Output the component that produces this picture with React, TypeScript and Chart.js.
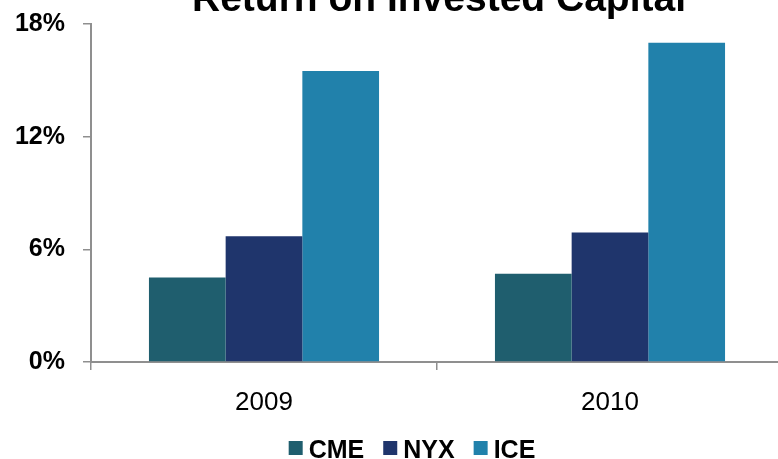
import React, { useEffect, useRef } from "react";
import { Chart, registerables } from "chart.js";

Chart.register(...registerables);

const categories = ["2009", "2010"];
const seriesNames = ["CME", "NYX", "ICE"];
const cmeValues = [4.5, 4.7];
const nyxValues = [6.7, 6.9];
const iceValues = [15.5, 17.0];
const seriesColors = ["#1F5E6E", "#1F356C", "#2181AB"];
const yTicks = [0, 6, 12, 18];
const titleText = "Return on Invested Capital";

const FONT = "'Liberation Sans', Arial, sans-serif";
const AXIS = "#8f8f8f";

const overlayPlugin = {
  id: "overlay",
  afterDraw(chart: any) {
    const ctx = chart.ctx;
    const area = chart.chartArea;
    ctx.save();
    // title
    ctx.fillStyle = "#000";
    ctx.font = `bold 39px ${FONT}`;
    ctx.textAlign = "center";
    ctx.textBaseline = "alphabetic";
    ctx.fillText(titleText, (area.left + area.right) / 2 + 2, area.top - 13);
    // legend
    ctx.font = `bold 25px ${FONT}`;
    ctx.textAlign = "left";
    const box = 14;
    const gapText = 6;
    const gapItem = 19;
    const ds = chart.data.datasets;
    let total = 0;
    const widths = ds.map((d: any) => ctx.measureText(d.label).width);
    widths.forEach((w: number, i: number) => {
      total += box + gapText + w + (i < widths.length - 1 ? gapItem : 0);
    });
    let x = 412 - total / 2;
    const baseline = 458;
    ds.forEach((d: any, i: number) => {
      ctx.fillStyle = d.backgroundColor;
      ctx.fillRect(x, baseline - 17, box, box);
      x += box + gapText;
      ctx.fillStyle = "#000";
      ctx.fillText(d.label, x, baseline);
      x += widths[i] + gapItem;
    });
    ctx.restore();
  },
};

export default function App() {
  const ref = useRef<HTMLCanvasElement | null>(null);
  useEffect(() => {
    if (!ref.current) return;
    const values = [cmeValues, nyxValues, iceValues];
    const chart = new Chart(ref.current, {
      type: "bar",
      data: {
        labels: categories,
        datasets: seriesNames.map((name, i) => ({
          label: name,
          data: values[i],
          backgroundColor: seriesColors[i],
          borderWidth: 0,
          barPercentage: 1,
          categoryPercentage: 0.665,
        })),
      },
      options: {
        animation: false,
        responsive: false,
        devicePixelRatio: 1,
        layout: { padding: { top: 24, right: 1, left: 0, bottom: 0 } },
        plugins: {
          legend: { display: false },
          title: { display: false },
          tooltip: { enabled: false },
        },
        scales: {
          x: {
            grid: {
              display: true,
              drawOnChartArea: false,
              drawTicks: true,
              tickLength: 8,
              color: AXIS,
              lineWidth: 1.5,
              offset: true,
            },
            border: { display: true, color: AXIS, width: 2 },
            ticks: {
              color: "#000",
              font: { family: FONT, size: 26 },
              padding: 17,
            },
            afterFit(scale: any) {
              scale.height = 97;
              scale.paddingLeft = 0;
              scale.paddingRight = 0;
            },
          },
          y: {
            min: 0,
            max: 18,
            afterBuildTicks(scale: any) {
              scale.ticks = yTicks.map((v) => ({ value: v }));
            },
            grid: {
              display: true,
              drawOnChartArea: false,
              drawTicks: true,
              tickLength: 8,
              color: AXIS,
              lineWidth: 1.5,
            },
            border: { display: true, color: AXIS, width: 2 },
            ticks: {
              color: "#000",
              font: { family: FONT, size: 25, weight: "bold" },
              padding: 18,
              callback: (v: any) => `${v}%`,
            },
            afterFit(scale: any) {
              scale.width = 91;
              scale.paddingTop = 0;
              scale.paddingBottom = 0;
            },
          },
        },
      },
      plugins: [overlayPlugin],
    });
    return () => chart.destroy();
  }, []);
  return (
    <div
      style={{
        position: "fixed",
        left: 0,
        top: 0,
        width: 778,
        height: 459,
        overflow: "hidden",
        background: "#fff",
      }}
    >
      <canvas ref={ref} width={784} height={459} style={{ width: 784, height: 459, display: "block" }} />
    </div>
  );
}
